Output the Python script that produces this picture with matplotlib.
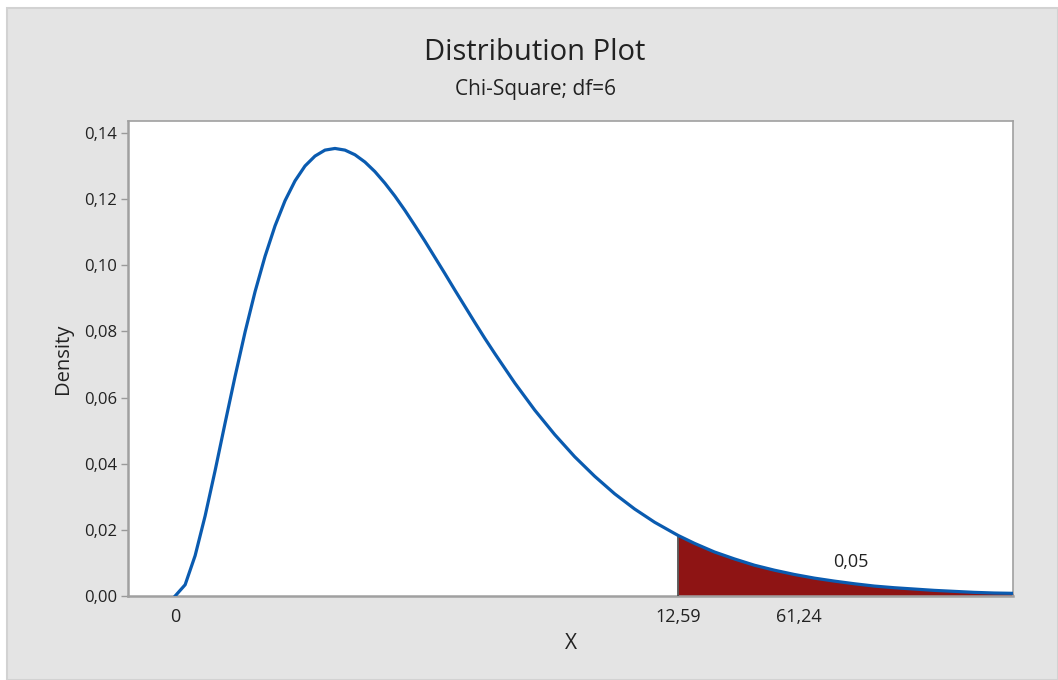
import matplotlib
matplotlib.use("Agg")
import matplotlib.pyplot as plt
from matplotlib.patches import Rectangle

plt.rcParams['font.family'] = ['Open Sans', 'DejaVu Sans']

# density curve (Chi-Square, df=6)
x_vals = [0, 0.25, 0.5, 0.75, 1, 1.25, 1.5, 1.75, 2, 2.25, 2.5, 2.75, 3, 3.25,
          3.5, 3.75, 4, 4.25, 4.5, 4.75, 5, 5.25, 5.5, 5.75, 6, 6.25, 6.5,
          6.75, 7, 7.25, 7.5, 7.75, 8, 8.5, 9, 9.5, 10, 10.5, 11, 11.5, 12,
          12.5, 12.59, 13, 13.5, 14, 14.5, 15, 15.5, 16, 16.5, 17, 17.5, 18,
          18.5, 19, 19.5, 20, 20.5, 21]
density = [0.0, 0.0034, 0.0122, 0.0242, 0.0379, 0.0523, 0.0664, 0.0798,
           0.0920, 0.1027, 0.1119, 0.1195, 0.1255, 0.1300, 0.1330, 0.1348,
           0.1353, 0.1348, 0.1334, 0.1312, 0.1283, 0.1248, 0.1209, 0.1166,
           0.1120, 0.1073, 0.1024, 0.0975, 0.0925, 0.0876, 0.0827, 0.0779,
           0.0733, 0.0644, 0.0562, 0.0488, 0.0421, 0.0362, 0.0309, 0.0263,
           0.0223, 0.0189, 0.0183, 0.0159, 0.0133, 0.0112, 0.0093, 0.0078,
           0.0065, 0.0054, 0.0045, 0.0037, 0.0030, 0.0025, 0.0021, 0.0017,
           0.0014, 0.0011, 0.0009, 0.0008]

critical = 12.59
tail_area = "0,05"
y_ticks = [0.00, 0.02, 0.04, 0.06, 0.08, 0.10, 0.12, 0.14]
y_ticklabels = ["0,00", "0,02", "0,04", "0,06", "0,08", "0,10", "0,12", "0,14"]
x_ticks = [0, 12.59, 15.6]
x_ticklabels = ["0", "12,59", "61,24"]

fig = plt.figure(figsize=(10.58, 6.80), dpi=100)
fig.patch.set_facecolor('white')
bg = Rectangle((7 / 1058, 0), 1 - 7 / 1058, 672 / 680,
               transform=fig.transFigure, facecolor='#e4e4e4',
               edgecolor='#d2d2d2', linewidth=1.5, zorder=-10)
fig.patches.append(bg)

ax = fig.add_axes([128 / 1058, 84 / 680, 885 / 1058, 475 / 680])
ax.set_facecolor('white')

# shaded right tail
tail_x = [x for x in x_vals if x >= critical]
tail_y = [d for x, d in zip(x_vals, density) if x >= critical]
ax.fill_between(tail_x, 0, tail_y, color='#8e1414', linewidth=0, zorder=2)
ax.plot([critical, critical], [0, tail_y[0]], color='#444444', linewidth=1.2, zorder=3)
ax.plot(x_vals, density, color='#0a5bb0', linewidth=2.3, zorder=4,
        solid_joinstyle='round')

ax.text(16.9, 0.0102, tail_area, ha='center', va='center', fontsize=13,
        color='#222222')

ax.set_xlim(-1.18, 20.97)
ax.set_ylim(0, 0.1436)

ax.set_yticks(y_ticks)
ax.set_yticklabels(y_ticklabels)
ax.set_xticks(x_ticks)
ax.set_xticklabels(x_ticklabels)
ax.tick_params(axis='y', length=5, width=1, color='#999999', labelsize=12,
               labelcolor='#222222', pad=3)
ax.tick_params(axis='x', length=0, labelsize=13, labelcolor='#222222', pad=9)

for side in ['left', 'bottom', 'top', 'right']:
    ax.spines[side].set_color('#a0a0a0')
    ax.spines[side].set_linewidth(1.8 if side in ('left', 'bottom') else 1.2)

ax.set_xlabel("X", fontsize=15, color='#222222', labelpad=5)
ax.set_ylabel("Density", fontsize=14.5, color='#222222', labelpad=8)

fig.text(535 / 1058, 1 - 53 / 680, "Distribution Plot", ha='center',
         va='center', fontsize=21, color='#222222')
fig.text(535 / 1058, 1 - 90 / 680, "Chi-Square; df=6", ha='center',
         va='center', fontsize=15, color='#222222')

fig.savefig("out.png", dpi=100)
